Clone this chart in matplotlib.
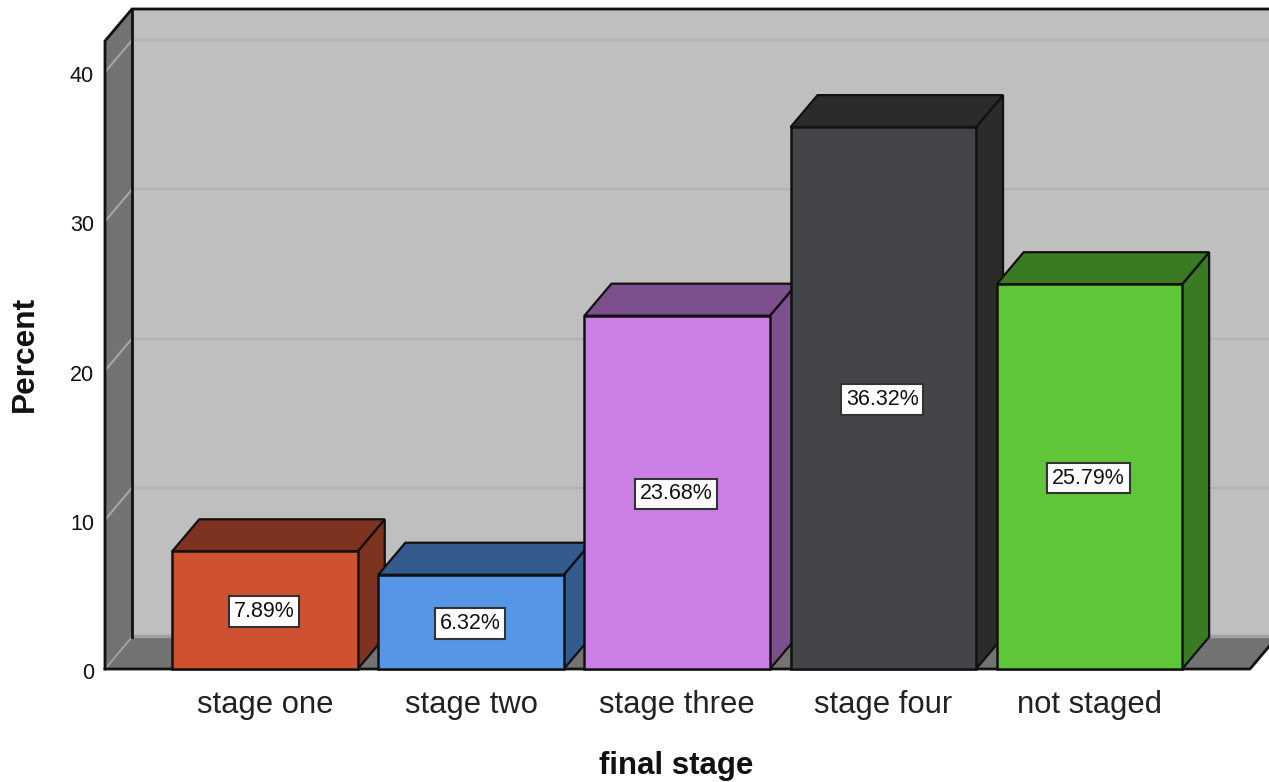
import matplotlib
matplotlib.use('Agg')
import matplotlib.pyplot as plt
from matplotlib.patches import Polygon
from matplotlib.transforms import ScaledTranslation

plt.rcParams['font.family'] = ['Liberation Sans', 'DejaVu Sans']

categories = ['stage one', 'stage two', 'stage three', 'stage four', 'not staged']
percents = [7.89, 6.32, 23.68, 36.32, 25.79]
front_colors = ['#CF5230', '#5596E6', '#CB7FE6', '#434548', '#5FC637']
side_colors = ['#7E3220', '#335B8E', '#7C4F8D', '#2A2C2A', '#3A7A22']
y_ticks = [0, 10, 20, 30, 40]

W, H = 1269, 782
fig = plt.figure(figsize=(W / 100, H / 100), dpi=100)

# axes covers the front plane of the 3d box, in pixels
left, right, bottom, top = 105, 1250, 669, 41
ax = fig.add_axes([left / W, 1 - bottom / H, (right - left) / W, (bottom - top) / H])

# one category = 206.1 px, one percent = 14.92 px
px_x = 1 / 206.1
px_y = 1 / 14.92
xmin = (left - 265) * px_x
xmax = (right - 265) * px_x
ymax = (bottom - top) * px_y
ax.set_xlim(xmin, xmax)
ax.set_ylim(0, ymax)

# depth offset of the 3d effect
dx = 27 * px_x
dy = 32 * px_y
bar_w = 185.5 * px_x


def poly(pts, color, z, edge='none', lw=0):
    ax.add_patch(Polygon(pts, closed=True, facecolor=color, edgecolor=edge,
                         linewidth=lw, zorder=z, clip_on=False, joinstyle='miter'))


# back wall, left wall, floor
wall_right = xmax + dx + 1
poly([(xmin + dx, dy), (wall_right, dy), (wall_right, ymax + dy), (xmin + dx, ymax + dy)], '#BFBFBF', 1)
poly([(xmin, 0), (xmin + dx, dy), (xmin + dx, ymax + dy), (xmin, ymax)], '#737373', 1)
poly([(xmin, 0), (xmax, 0), (xmax + dx, dy), (xmin + dx, dy)], '#737373', 1.5)

# gridlines run across the left wall and on along the back wall
for v in y_ticks[1:]:
    ax.plot([xmin, xmin + dx], [v, v + dy], color='#A6A6A6', lw=1.5, zorder=2, clip_on=False)
    ax.plot([xmin + dx, wall_right], [v + dy, v + dy], color='#B1B1B1', lw=1.5, zorder=2, clip_on=False)
ax.plot([xmin, xmin + dx], [0, dy], color='#A6A6A6', lw=1.2, zorder=2, clip_on=False)
ax.plot([xmin + dx, wall_right], [dy + 1.5 * px_y, dy + 1.5 * px_y], color='#A0A0A0', lw=2.5, zorder=2, clip_on=False)

# box edges
ax.plot([xmin, xmin, xmin + dx, wall_right], [0, ymax, ymax + dy, ymax + dy], color='#111111', lw=2,
        zorder=3, clip_on=False, solid_joinstyle='miter')
ax.plot([xmin + dx, xmin + dx], [dy, ymax + dy], color='#111111', lw=2, zorder=3, clip_on=False)
ax.plot([xmin, xmax, xmax + dx], [0, 0, dy], color='#111111', lw=2, zorder=3, clip_on=False)

# bars, left to right so each one covers the side of the previous one
for i, val in enumerate(percents):
    z = 4 + i
    x0 = i - bar_w / 2
    x1 = i + bar_w / 2
    poly([(x1, 0), (x1 + dx, dy), (x1 + dx, val + dy), (x1, val)], side_colors[i], z, '#111111', 1.6)
    poly([(x0, val), (x1, val), (x1 + dx, val + dy), (x0 + dx, val + dy)], side_colors[i], z, '#111111', 1.6)
    poly([(x0, 0), (x1, 0), (x1, val), (x0, val)], front_colors[i], z, '#111111', 1.8)
    ax.text(i - 1 * px_x, val / 2 - 1.5 * px_y, '%.2f%%' % val, ha='center', va='center', fontsize=15.5, color='#111111',
            zorder=20, bbox=dict(boxstyle='square,pad=0.22', facecolor='white', edgecolor='#333333', linewidth=1.5))

ax.set_xticks(range(len(categories)))
ax.set_xticklabels(categories, fontsize=22.3, color='#222222')
ax.set_yticks(y_ticks)
ax.set_yticklabels([str(v) for v in y_ticks], fontsize=15.5, color='#111111')
ax.tick_params(axis='both', length=0)
ax.tick_params(axis='x', pad=15)
ax.tick_params(axis='y', pad=8)
# numbers sit a little below their gridline ends
nudge = ScaledTranslation(0, -2 / 100, fig.dpi_scale_trans)
for lab in ax.get_yticklabels():
    lab.set_transform(lab.get_transform() + nudge)
for s in ax.spines.values():
    s.set_visible(False)
ax.patch.set_visible(False)

fig.text(25 / W, 1 - 354 / H, 'Percent', rotation=90, ha='center', va='center', fontsize=22.8, fontweight='bold', color='#111111')
fig.text(676 / W, 1 - 766 / H, 'final stage', ha='center', va='center', fontsize=22.5, fontweight='bold', color='#111111')

fig.savefig('out.png', dpi=100, facecolor='white')
